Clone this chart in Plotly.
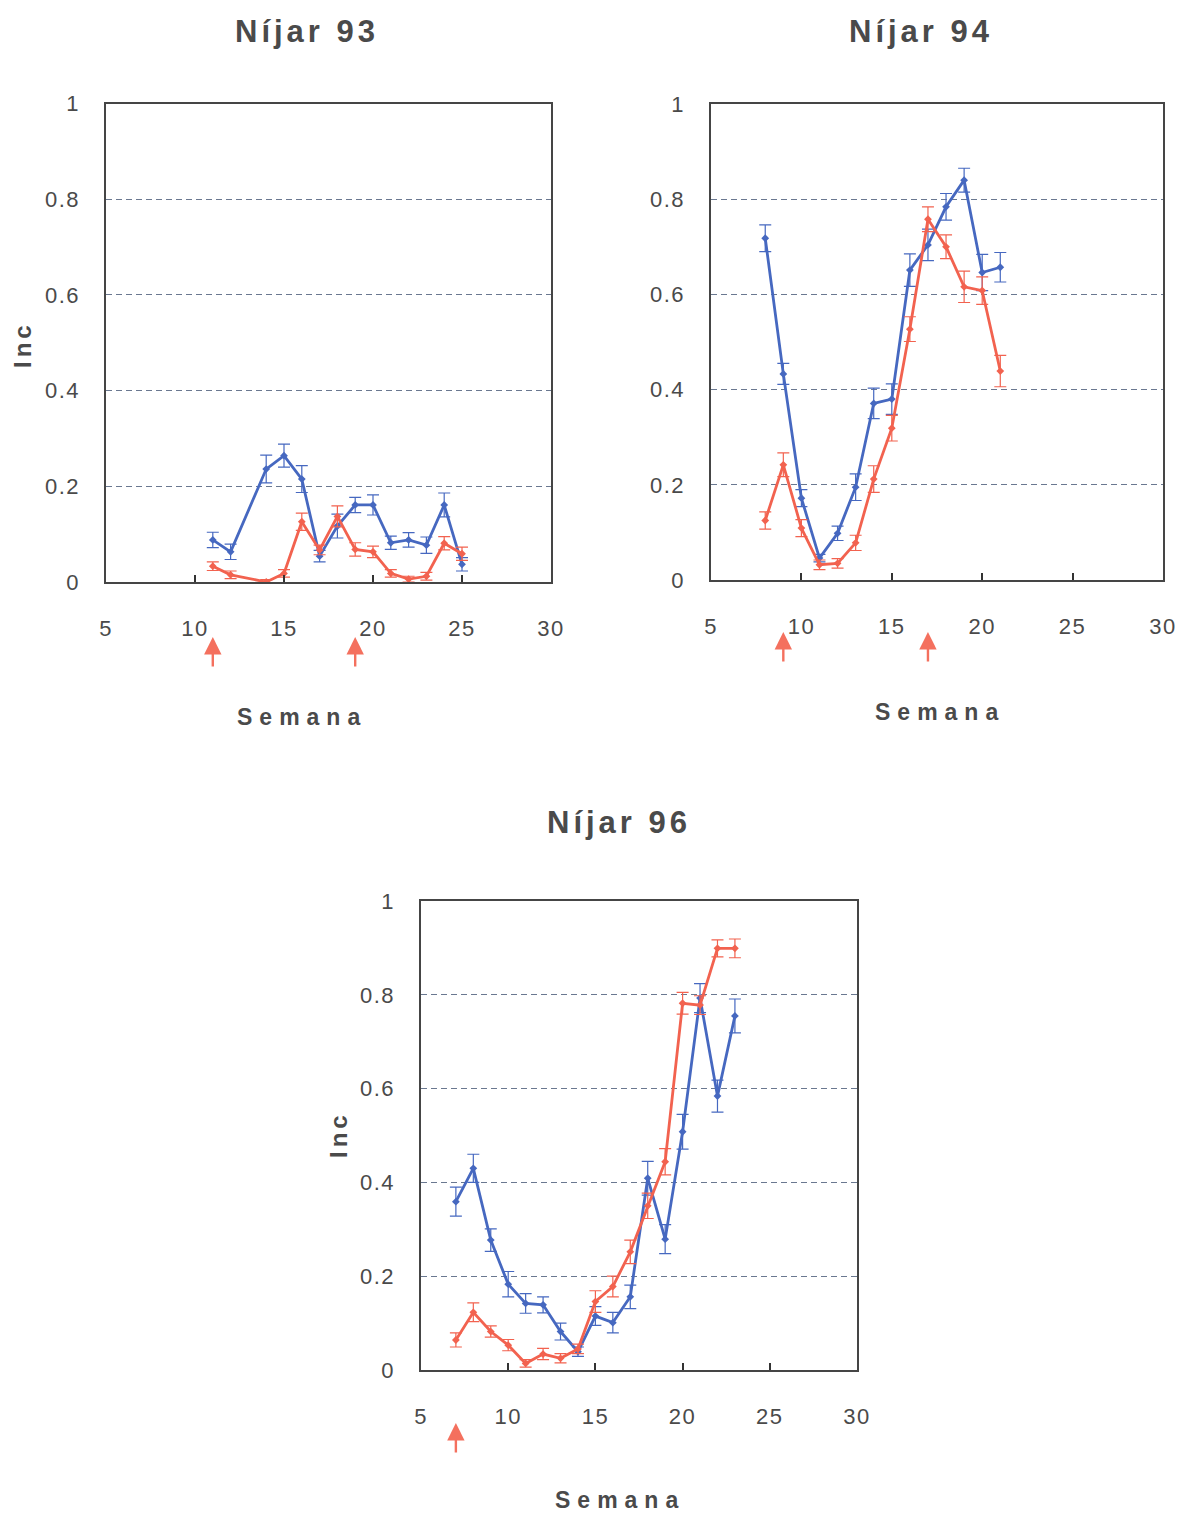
import plotly.graph_objects as go

# ---------------- data ----------------
# Níjar 93
w93 = [11, 12, 14, 15, 16, 17, 18, 19, 20, 21, 22, 23, 24, 25]
b93 = [0.088, 0.063, 0.236, 0.264, 0.215, 0.054, 0.117, 0.161, 0.161, 0.082, 0.088, 0.077, 0.161, 0.037]
b93e = [0.016, 0.016, 0.029, 0.024, 0.028, 0.012, 0.025, 0.016, 0.021, 0.014, 0.015, 0.017, 0.025, 0.014]
r93 = [0.033, 0.015, 0.0, 0.018, 0.126, 0.067, 0.137, 0.068, 0.063, 0.018, 0.006, 0.012, 0.081, 0.059]
r93e = [0.009, 0.008, 0.005, 0.008, 0.018, 0.010, 0.022, 0.014, 0.012, 0.008, 0.006, 0.008, 0.014, 0.014]

# Níjar 94
w94 = [8, 9, 10, 11, 12, 13, 14, 15, 16, 17, 18, 19, 20, 21]
b94 = [0.718, 0.433, 0.172, 0.046, 0.098, 0.195, 0.371, 0.380, 0.651, 0.704, 0.784, 0.840, 0.646, 0.657]
b94e = [0.028, 0.022, 0.018, 0.008, 0.015, 0.028, 0.032, 0.032, 0.034, 0.033, 0.028, 0.025, 0.038, 0.031]
r94 = [0.125, 0.242, 0.109, 0.032, 0.035, 0.078, 0.212, 0.319, 0.527, 0.758, 0.700, 0.616, 0.608, 0.439]
r94e = [0.018, 0.025, 0.018, 0.010, 0.010, 0.016, 0.028, 0.027, 0.026, 0.026, 0.025, 0.033, 0.029, 0.033]

# Níjar 96
w96 = [7, 8, 9, 10, 11, 12, 13, 14, 15, 16, 17, 18, 19, 20, 21, 22, 23]
b96 = [0.359, 0.430, 0.277, 0.183, 0.142, 0.139, 0.082, 0.039, 0.115, 0.101, 0.156, 0.409, 0.279, 0.508, 0.793, 0.584, 0.755]
b96e = [0.031, 0.030, 0.024, 0.027, 0.021, 0.017, 0.018, 0.010, 0.020, 0.022, 0.025, 0.036, 0.031, 0.037, 0.031, 0.034, 0.036]
r96 = [0.064, 0.123, 0.082, 0.053, 0.014, 0.034, 0.025, 0.045, 0.146, 0.178, 0.252, 0.350, 0.444, 0.782, 0.778, 0.899, 0.899]
r96e = [0.015, 0.020, 0.012, 0.012, 0.008, 0.012, 0.010, 0.010, 0.023, 0.022, 0.025, 0.027, 0.028, 0.023, 0.020, 0.018, 0.020]

# treatment arrows (week)
arrows93 = [11, 19]
arrows94 = [9, 17]
arrows96 = [7]

titles = ["Níjar 93", "Níjar 94", "Níjar 96"]
xlab = "Semana"
ylab = "Inc"
xticks = [5, 10, 15, 20, 25, 30]
xticktext = ["5", "10", "15", "20", "25", "30"]
yticks = [0, 0.2, 0.4, 0.6, 0.8, 1]
yticktext = ["0", "0.2", "0.4", "0.6", "0.8", "1"]

# ---------------- style ----------------
W, H = 1180, 1514
BLUE = "#4668c0"
RED = "#f2624f"
TXT = "#4a4a4a"
FONT = "Liberation Sans"


def px2x(p):
    return p / W


def px2y(p):
    return 1 - p / H


def sp(t, ls):
    return '<span style="letter-spacing:%.1fpx">%s</span>' % (ls, t)


fig = go.Figure()

panels = [
    (w93, b93, b93e, r93, r93e, "x", "y", (106, 551), (103.5, 582), arrows93, 637),
    (w94, b94, b94e, r94, r94e, "x2", "y2", (711, 1163), (104, 580), arrows94, 632),
    (w96, b96, b96e, r96, r96e, "x3", "y3", (421, 857), (901, 1370), arrows96, 1423),
]

annotations = []
for i, (wk, b, be, r, re_, xa, ya, xd, yd, arrs, ahy) in enumerate(panels):
    for vals, errs, col in ((b, be, BLUE), (r, re_, RED)):
        fig.add_trace(go.Scatter(
            x=wk, y=vals, xaxis=xa, yaxis=ya, mode="lines+markers",
            line=dict(color=col, width=2.8),
            marker=dict(symbol="diamond", size=6, color=col),
            error_y=dict(type="data", array=errs, visible=True, color=col,
                         thickness=1.2, width=6),
            showlegend=False, hoverinfo="skip",
        ))
    sfx = "" if i == 0 else str(i + 1)
    axcommon = dict(showline=True, mirror=True, linecolor="#454545", linewidth=1.6,
                    zeroline=False, automargin=False, ticklabeloverflow="allow")
    fig.layout["xaxis" + sfx] = dict(
        axcommon, domain=[px2x(xd[0]), px2x(xd[1])], range=[5, 30],
        anchor="y" + sfx, tickvals=xticks, ticktext=[sp(t, 1.5) for t in xticktext],
        ticks="inside", ticklen=7, tickwidth=2,
        tickcolor="#333", showgrid=False, ticklabelstandoff=26,
        tickfont=dict(family=FONT, size=22, color=TXT),
    )
    fig.layout["yaxis" + sfx] = dict(
        axcommon, domain=[px2y(yd[1]), px2y(yd[0])], range=[0, 1],
        anchor="x" + sfx, tickvals=yticks, ticktext=[sp(t, 1.5) for t in yticktext],
        ticks="", showgrid=True, gridcolor="#6a7890", gridwidth=1, griddash="6px,4px",
        ticklabelstandoff=20,
        tickfont=dict(family=FONT, size=22, color=TXT),
    )
    for a in arrs:
        annotations.append(dict(
            x=a, y=px2y(ahy), xref=xa, yref="paper", text="", showarrow=True,
            ax=0, ay=31, arrowhead=2, arrowsize=1.45, arrowwidth=2.4,
            arrowcolor="#f4705e", standoff=0,
        ))

# titles
for t, cx, cy in zip(titles, (307, 921, 619), (32, 32, 822)):
    annotations.append(dict(text="<b>" + sp(t, 4) + "</b>", x=px2x(cx), y=px2y(cy),
                            xref="paper", yref="paper", showarrow=False,
                            xanchor="center", yanchor="middle",
                            font=dict(family=FONT, size=31, color=TXT)))
# x labels
for cx, cy in ((302, 717), (940, 712), (620, 1500)):
    annotations.append(dict(text="<b>" + sp(xlab, 7) + "</b>", x=px2x(cx), y=px2y(cy),
                            xref="paper", yref="paper", showarrow=False,
                            xanchor="center", yanchor="middle",
                            font=dict(family=FONT, size=23, color=TXT)))
# y labels
for cx, cy in ((22, 345), (338, 1135)):
    annotations.append(dict(text="<b>" + sp(ylab, 4) + "</b>", x=px2x(cx), y=px2y(cy),
                            xref="paper", yref="paper", showarrow=False,
                            xanchor="center", yanchor="middle", textangle=-90,
                            font=dict(family=FONT, size=24, color=TXT)))

fig.update_layout(
    width=W, height=H, margin=dict(l=0, r=0, t=0, b=0, pad=0, autoexpand=False),
    paper_bgcolor="white", plot_bgcolor="white",
    annotations=annotations, showlegend=False, hovermode=False,
    font=dict(family=FONT, color=TXT),
)

fig.write_html(
    "out.html",
    config={"displayModeBar": False, "staticPlot": True},
    post_script="document.body.style.margin='0px';"
                "document.documentElement.style.overflow='hidden';",
)
